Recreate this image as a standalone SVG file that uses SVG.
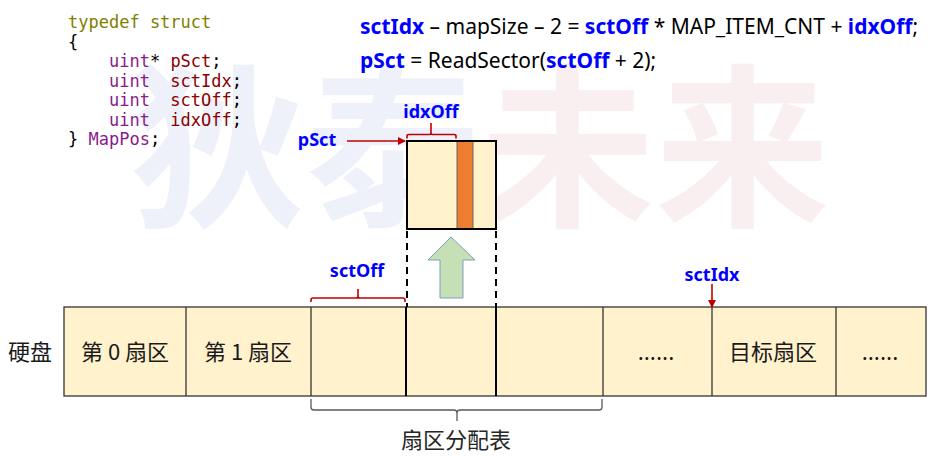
<svg xmlns="http://www.w3.org/2000/svg" width="932" height="465" viewBox="0 0 932 465">
  <style>
    .code { font-family: "DejaVu Sans Mono", "Liberation Mono", monospace; font-size: 17px; white-space: pre; }
    .kw { fill: #808000; }
    .ty { fill: #8b1a8b; }
    .id { fill: #8b0000; }
    .pl { fill: #000000; }
    .f { font-family: "Noto Sans", "Open Sans", sans-serif; font-size: 21px; fill: #000; white-space: pre; }
    .v { font-weight: bold; fill: #0000ff; }
    .lbl { font-family: "Noto Sans", "Open Sans", sans-serif; font-size: 18px; font-weight: bold; fill: #0000ff; text-anchor: middle; }
    .cn { font-family: "Noto Sans CJK SC", sans-serif; font-size: 22px; fill: #1a1a1a; text-anchor: middle; }
    .cell { fill: #fff2cc; stroke: #333; stroke-width: 1.3; }
    .thick { stroke: #000; stroke-width: 2; }
    .thin { stroke: #333; stroke-width: 1.3; }
    .red { stroke: #c00000; stroke-width: 1.6; fill: none; }
    .dash { stroke: #000; stroke-width: 2; stroke-dasharray: 7 5; }
    .wm { font-family: "Noto Sans CJK SC", sans-serif; font-size: 175px; font-weight: bold; }
  </style>
  <defs>
    <marker id="ah" markerWidth="8" markerHeight="8" refX="7" refY="4" orient="auto" markerUnits="userSpaceOnUse">
      <path d="M0,0 L8,4 L0,8 Z" fill="#c00000"/>
    </marker>
  </defs>

  <g id="watermark" opacity="0.08">
    <text class="wm" x="130" y="213" fill="#3050c8">狄泰</text>
    <text class="wm" x="480" y="213" fill="#c03050">未来</text>
  </g>

  <g id="code">
    <text class="code" x="68" y="28"><tspan class="kw">typedef struct</tspan></text>
    <text class="code pl" x="68" y="47.5">{</text>
    <text class="code" x="68" y="67"><tspan class="ty">    uint</tspan><tspan class="pl">*</tspan><tspan class="id"> pSct</tspan><tspan class="pl">;</tspan></text>
    <text class="code" x="68" y="86.5"><tspan class="ty">    uint</tspan><tspan class="id">  sctIdx</tspan><tspan class="pl">;</tspan></text>
    <text class="code" x="68" y="106"><tspan class="ty">    uint</tspan><tspan class="id">  sctOff</tspan><tspan class="pl">;</tspan></text>
    <text class="code" x="68" y="125.5"><tspan class="ty">    uint</tspan><tspan class="id">  idxOff</tspan><tspan class="pl">;</tspan></text>
    <text class="code" x="68" y="145"><tspan class="pl">} </tspan><tspan class="ty">MapPos</tspan><tspan class="pl">;</tspan></text>
  </g>

  <g id="formula">
    <text class="f" x="360" y="34"><tspan class="v">sctIdx</tspan> – mapSize – 2 = <tspan class="v">sctOff</tspan> * MAP_ITEM_CNT + <tspan class="v">idxOff</tspan>;</text>
    <text class="f" x="360" y="68"><tspan class="v">pSct</tspan> = ReadSector(<tspan class="v">sctOff</tspan> + 2);</text>
  </g>

  <g id="sector-block">
    <rect x="407" y="141" width="50" height="88" fill="#fff2cc"/>
    <rect x="457" y="141" width="16" height="88" fill="#ed7d31"/>
    <rect x="473" y="141" width="23" height="88" fill="#fff2cc"/>
    <line x1="457" y1="141" x2="457" y2="229" stroke="#666" stroke-width="1"/>
    <line x1="473" y1="141" x2="473" y2="229" stroke="#666" stroke-width="1"/>
    <rect x="407" y="141" width="89" height="88" fill="none" stroke="#000" stroke-width="2"/>
  </g>

  <g id="read-arrow">
    <polygon points="451,237 475,260 463,260 463,298 440,298 440,260 428,260" fill="#c5e0b4" stroke="#7f9fbf" stroke-width="1"/>
  </g>

  <g id="disk-label">
    <text class="cn" x="30" y="360">硬盘</text>
  </g>

  <g id="disk">
    <rect class="cell" x="64" y="307" width="862" height="89"/>
    <line class="thin" x1="186" y1="307" x2="186" y2="396"/>
    <line class="thin" x1="311" y1="307" x2="311" y2="396"/>
    <line class="thick" x1="406" y1="307" x2="406" y2="396"/>
    <line class="thick" x1="496" y1="307" x2="496" y2="396"/>
    <line class="thin" x1="603" y1="307" x2="603" y2="396"/>
    <line class="thin" x1="712" y1="307" x2="712" y2="396"/>
    <line class="thin" x1="836" y1="307" x2="836" y2="396"/>
    <text class="cn" x="125" y="360">第 0 扇区</text>
    <text class="cn" x="248" y="360">第 1 扇区</text>
    <text class="cn" x="656" y="360">......</text>
    <text class="cn" x="773" y="360">目标扇区</text>
    <text class="cn" x="880" y="360">......</text>
  </g>

  <g id="labels">
    <text class="lbl" x="431" y="118">idxOff</text>
    <text class="lbl" x="317" y="146">pSct</text>
    <text class="lbl" x="357" y="277">sctOff</text>
    <text class="lbl" x="712" y="281">sctIdx</text>
    <text class="cn" x="456" y="448" style="fill:#262626">扇区分配表</text>
  </g>

  <g id="connectors">
    <line class="dash" x1="407" y1="231" x2="407" y2="307"/>
    <line class="dash" x1="496" y1="231" x2="496" y2="307"/>
    <line class="red" x1="347" y1="141" x2="405" y2="141" marker-end="url(#ah)"/>
    <line class="red" x1="712" y1="284" x2="712" y2="307" marker-end="url(#ah)"/>
    <path class="red" d="M407,138.5 L407,136 Q407,134.5 409,134.5 L429.5,134.5 Q431,134.5 431,133 L431,123 M431,133 Q431,134.5 432.5,134.5 L454,134.5 Q456,134.5 456,136 L456,138.5"/>
    <path class="red" d="M311,302 L311,300 Q311,298 313,298 L356,298 Q358,298 358,296.5 L358,289 M358,296.5 Q358,298 360,298 L403,298 Q405,298 405,300 L405,302"/>
    <path d="M311,399 L311,407 Q311,410 314,410 L454,410 Q457,410 457,413 L457,421 M457,413 Q457,410 460,410 L599,410 Q602,410 602,407 L602,399" fill="none" stroke="#595959" stroke-width="1.3"/>
  </g>
</svg>
